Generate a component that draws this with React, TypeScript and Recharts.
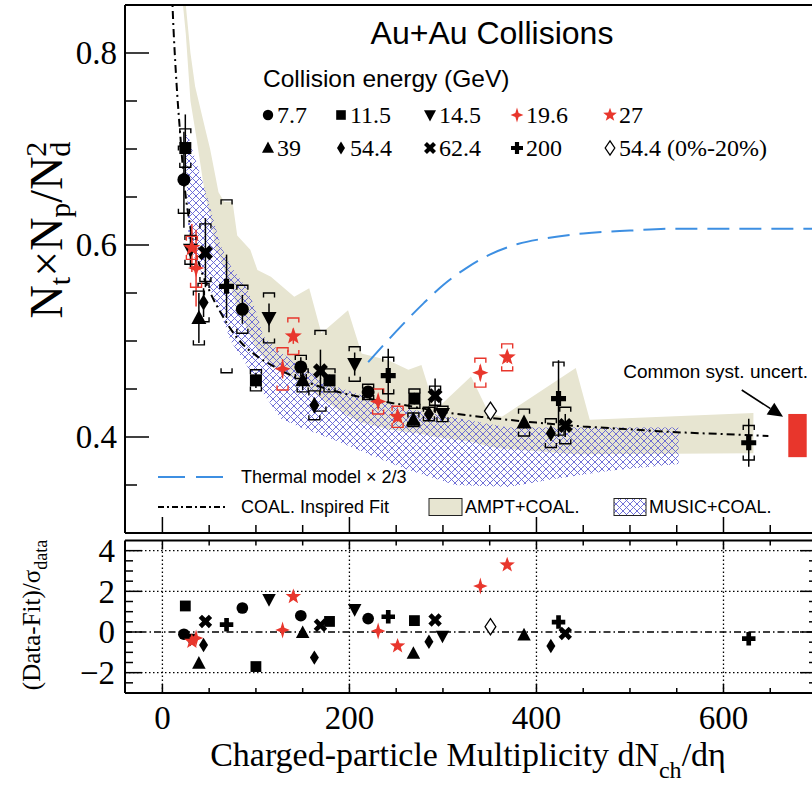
import React from 'react';
import {
  ComposedChart, Scatter, Area, Line, XAxis, YAxis, ErrorBar, ReferenceLine, ReferenceArea,
} from 'recharts';

const SERIF = '"Liberation Serif", "Times New Roman", serif';
const SANS = '"Liberation Sans", Arial, Helvetica, sans-serif';
const RED = '#e8362c';
const BLUE = '#3d8fe2';
const BEIGE = '#e7e5d1';
const HATCH = '#6161d2';

// ---------- axes ----------
const X_DOMAIN = [-40, 700];
const TOP_Y_DOMAIN = [0.3, 0.85];
const RES_Y_DOMAIN = [-3, 4.5];
const X_TICKS = [0, 50, 100, 150, 200, 250, 300, 350, 400, 450, 500, 550, 600, 650];
const X_LABELS = [0, 200, 400, 600];
const TOP_Y_TICKS = [0.35, 0.4, 0.45, 0.5, 0.55, 0.6, 0.65, 0.7, 0.75, 0.8];
const TOP_Y_LABELS = [0.4, 0.6, 0.8];
const RES_Y_TICKS = [-2.5, -2, -1.5, -1, -0.5, 0, 0.5, 1, 1.5, 2, 2.5, 3, 3.5, 4];
const RES_Y_LABELS = [-2, 0, 2, 4];
const RES_GRID_X = [0, 200, 400, 600];
const RES_GRID_Y = [-2, 2, 4];

// ---------- data points: x = dNch/deta, y = Nt*Np/Nd^2, stat, sys, res = (data-fit)/sigma ----------
const E7_7 = [
  { x: 23, y: 0.668, stat: 0.05, sys: 0.035, res: -0.11 },
  { x: 85.5, y: 0.533, stat: 0.015, sys: 0.025, res: 1.18 },
  { x: 148, y: 0.473, stat: 0.01, sys: 0.012, res: 0.8 },
  { x: 220, y: 0.447, stat: 0.006, sys: 0.008, res: 0.66 },
];
const E11_5 = [
  { x: 24.5, y: 0.701, stat: 0.035, sys: 0.02, res: 1.28 },
  { x: 100, y: 0.459, stat: 0.008, sys: 0.011, res: -1.7 },
  { x: 178.7, y: 0.459, stat: 0.006, sys: 0.012, res: 0.52 },
  { x: 269.5, y: 0.44, stat: 0.006, sys: 0.01, res: 0.56 },
];
const E14_5 = [
  { x: 30, y: 0.595, stat: 0.018, sys: 0.015, res: -0.35 },
  { x: 114, y: 0.524, stat: 0.015, sys: 0.026, res: 1.6 },
  { x: 205.6, y: 0.476, stat: 0.012, sys: 0.018, res: 1.11 },
  { x: 299.5, y: 0.424, stat: 0.005, sys: 0.008, res: -0.2 },
];
const E19_6 = [
  { x: 36, y: 0.576, stat: 0.04, sys: 0.02, res: -0.3 },
  { x: 128.5, y: 0.471, stat: 0.01, sys: 0.022, res: 0.1 },
  { x: 230.7, y: 0.437, stat: 0.006, sys: 0.013, res: 0.05 },
  { x: 340, y: 0.467, stat: 0.008, sys: 0.015, res: 2.26 },
];
const E27 = [
  { x: 31.5, y: 0.597, stat: 0.025, sys: 0.012, res: -0.46 },
  { x: 140, y: 0.505, stat: 0.008, sys: 0.019, res: 1.74 },
  { x: 251.5, y: 0.421, stat: 0.005, sys: 0.011, res: -0.69 },
  { x: 368.7, y: 0.483, stat: 0.006, sys: 0.014, res: 3.3 },
];
const E39 = [
  { x: 39, y: 0.524, stat: 0.026, sys: 0.028, res: -1.54 },
  { x: 150, y: 0.459, stat: 0.01, sys: 0.012, res: -0.03 },
  { x: 268.4, y: 0.418, stat: 0.005, sys: 0.007, res: -1.05 },
  { x: 386.7, y: 0.415, stat: 0.006, sys: 0.014, res: -0.15 },
];
const E54_4 = [
  { x: 44, y: 0.54, stat: 0.015, sys: 0.02, res: -0.64 },
  { x: 162.5, y: 0.433, stat: 0.008, sys: 0.015, res: -1.26 },
  { x: 285, y: 0.424, stat: 0.005, sys: 0.007, res: -0.48 },
  { x: 415.4, y: 0.404, stat: 0.008, sys: 0.015, res: -0.69 },
];
const E62_4 = [
  { x: 46, y: 0.592, stat: 0.036, sys: 0.03, res: 0.52 },
  { x: 169, y: 0.469, stat: 0.022, sys: 0.042, res: 0.33 },
  { x: 291.6, y: 0.443, stat: 0.018, sys: 0.01, res: 0.59 },
  { x: 430.8, y: 0.412, stat: 0.012, sys: 0.019, res: -0.07 },
];
const E200 = [
  { x: 68.6, y: 0.557, stat: 0.033, sys: 0.09, res: 0.36 },
  { x: 241.5, y: 0.464, stat: 0.028, sys: 0.019, res: 0.75 },
  { x: 423.6, y: 0.44, stat: 0.04, sys: 0.038, res: 0.49 },
  { x: 627, y: 0.394, stat: 0.025, sys: 0.018, res: -0.33 },
];
const E54_4_CENTRAL = [
  { x: 350.8, y: 0.427, stat: 0, sys: 0, res: 0.26 },
];

// ---------- model curves ----------
// [x, low, high]
const AMPT: number[][] = [
  [22, 0.85, 0.87], [25, 0.82, 0.85], [30, 0.75, 0.8], [35, 0.72, 0.765], [46, 0.65, 0.72],
  [51, 0.63, 0.7], [57, 0.595, 0.67], [60, 0.59, 0.655], [66, 0.575, 0.645], [75, 0.55, 0.645],
  [80, 0.535, 0.61], [94, 0.505, 0.595], [101.6, 0.49, 0.574], [116, 0.475, 0.567], [141, 0.46, 0.546],
  [157, 0.45, 0.555], [170, 0.44, 0.508], [198.5, 0.422, 0.532], [213, 0.415, 0.487], [241.5, 0.408, 0.48],
  [263, 0.405, 0.47], [277, 0.403, 0.475], [292, 0.4, 0.428], [330, 0.395, 0.463], [349, 0.39, 0.425],
  [363, 0.388, 0.421], [442, 0.382, 0.472], [457, 0.382, 0.418], [632, 0.383, 0.425],
];
const MUSIC: number[][] = [
  [25, 0.7, 0.715], [28, 0.605, 0.712], [35, 0.585, 0.69], [48, 0.56, 0.65], [55, 0.545, 0.625],
  [62, 0.53, 0.6], [73, 0.5, 0.578], [90, 0.475, 0.555], [98, 0.46, 0.537], [108, 0.445, 0.505],
  [127, 0.419, 0.488], [148, 0.41, 0.473], [184, 0.397, 0.453], [223, 0.381, 0.44], [259, 0.367, 0.43],
  [313, 0.35, 0.42], [370, 0.348, 0.41], [417, 0.356, 0.41], [480, 0.365, 0.41], [552, 0.372, 0.41],
];
const FIT_X = [9, 11, 15, 19, 23, 30, 40, 50, 65, 80, 100, 120, 150, 180, 220, 260, 300, 350, 400, 450, 500, 550, 600, 648];
const FIT_Y = [0.9, 0.845, 0.77, 0.716, 0.668, 0.618, 0.578, 0.553, 0.525, 0.503, 0.485, 0.473, 0.459, 0.449, 0.44, 0.433, 0.426, 0.42, 0.415, 0.411, 0.408, 0.405, 0.403, 0.401];
const THERMAL_X = [220, 250, 280, 300, 325, 350, 380, 410, 450, 500, 550, 700];
const THERMAL_Y = [0.478, 0.51, 0.54, 0.558, 0.576, 0.59, 0.601, 0.607, 0.612, 0.615, 0.617, 0.617];
const SYST_BOX = { x1: 669.3, x2: 689, y1: 0.379, y2: 0.424 };
const ARROW = [{ x: 619.5, y: 0.449 }, { x: 663.7, y: 0.421 }];

const SERIES = [
  { label: '7.7', kind: 'circle', color: '#000', pts: E7_7 },
  { label: '11.5', kind: 'square', color: '#000', pts: E11_5 },
  { label: '14.5', kind: 'tdown', color: '#000', pts: E14_5 },
  { label: '19.6', kind: 'star4', color: RED, pts: E19_6 },
  { label: '27', kind: 'star5', color: RED, pts: E27 },
  { label: '39', kind: 'tup', color: '#000', pts: E39 },
  { label: '54.4', kind: 'diamond', color: '#000', pts: E54_4 },
  { label: '62.4', kind: 'xcross', color: '#000', pts: E62_4 },
  { label: '200', kind: 'plus', color: '#000', pts: E200 },
  { label: '54.4 (0%-20%)', kind: 'odiamond', color: '#000', pts: E54_4_CENTRAL },
];

const amptData = AMPT.map(([x, lo, hi]) => ({ x, range: [lo, hi] }));
const musicData = MUSIC.map(([x, lo, hi]) => ({ x, range: [lo, hi] }));
const fitData = FIT_X.map((x, i) => ({ x, y: FIT_Y[i] }));
const thermalData = THERMAL_X.map((x, i) => ({ x, y: THERMAL_Y[i] }));
const bracketTop = SERIES.flatMap((s) => s.pts.filter((p) => p.sys > 0).map((p) => ({ x: p.x, y: p.y + p.sys, c: s.color })));
const bracketBot = SERIES.flatMap((s) => s.pts.filter((p) => p.sys > 0).map((p) => ({ x: p.x, y: p.y - p.sys, c: s.color })));

// ---------- layout ----------
const CHART_W = 817;
const AXIS_W = 125;
const PLOT_W = CHART_W - AXIS_W;
const TOP_H = 540;
const RES_TOP = 533;
const RES_H = 253;
const RES_PLOT_H = 152.5;

// ---------- markers ----------
function polyStar(cx: number, cy: number, n: number, ro: number, ri: number, sx = 1) {
  const pts: string[] = [];
  for (let i = 0; i < 2 * n; i++) {
    const r = i % 2 === 0 ? ro : ri;
    const a = -Math.PI / 2 + (i * Math.PI) / n;
    pts.push(`${cx + r * Math.cos(a) * sx},${cy + r * Math.sin(a)}`);
  }
  return pts.join(' ');
}
function crossPoly(cx: number, cy: number, a: number, t: number, rot: number) {
  const base = [[-t, -a], [t, -a], [t, -t], [a, -t], [a, t], [t, t], [t, a], [-t, a], [-t, t], [-a, t], [-a, -t], [-t, -t]];
  const c = Math.cos(rot), s = Math.sin(rot);
  return base.map(([x, y]) => `${cx + x * c - y * s},${cy + x * s + y * c}`).join(' ');
}
function Marker({ kind, color, cx, cy, s = 1 }: any) {
  if (cx == null || cy == null) return null;
  switch (kind) {
    case 'circle':
      return <circle cx={cx} cy={cy} r={6.5 * s} fill={color} />;
    case 'square':
      return <rect x={cx - 6 * s} y={cy - 6 * s} width={12 * s} height={12 * s} fill={color} />;
    case 'tdown':
      return <polygon points={`${cx - 7.5 * s},${cy - 6 * s} ${cx + 7.5 * s},${cy - 6 * s} ${cx},${cy + 8 * s}`} fill={color} />;
    case 'tup':
      return <polygon points={`${cx - 7.5 * s},${cy + 6 * s} ${cx + 7.5 * s},${cy + 6 * s} ${cx},${cy - 8 * s}`} fill={color} />;
    case 'diamond':
      return <polygon points={`${cx},${cy - 8 * s} ${cx + 5 * s},${cy} ${cx},${cy + 8 * s} ${cx - 5 * s},${cy}`} fill={color} />;
    case 'odiamond':
      return <polygon points={`${cx},${cy - 9 * s} ${cx + 6 * s},${cy} ${cx},${cy + 9 * s} ${cx - 6 * s},${cy}`} fill="#fff" stroke={color} strokeWidth={1.3} />;
    case 'xcross':
      return <polygon points={crossPoly(cx, cy, 8 * s, 2.6 * s, Math.PI / 4)} fill={color} />;
    case 'plus':
      return <polygon points={crossPoly(cx, cy, 7.5 * s, 2.6 * s, 0)} fill={color} />;
    case 'star4':
      return <polygon points={polyStar(cx, cy, 4, 9.5 * s, 3.4 * s, 0.85)} fill={color} />;
    case 'star5':
      return <polygon points={polyStar(cx, cy, 5, 9 * s, 3.7 * s)} fill={color} />;
    default:
      return null;
  }
}

// ---------- ticks ----------
const isIn = (arr: number[], v: number) => arr.some((m) => Math.abs(m - v) < 1e-6);
const fmtRes = (v: number) => (v < 0 ? `\u2212${Math.abs(v)}` : `${v}`);

const TopYTick = ({ x, y, payload }: any) => {
  const v = payload.value;
  const major = isIn(TOP_Y_LABELS, v);
  return (
    <g>
      <line x1={x} x2={x + (major ? 24 : 12)} y1={y} y2={y} stroke="#000" strokeWidth={1.5} />
      {major && (
        <text x={x - 8} y={y} dy="0.34em" textAnchor="end" fontFamily={SERIF} fontSize={33} fill="#000">
          {v.toFixed(1)}
        </text>
      )}
    </g>
  );
};
const TopXTick = ({ x, y, payload }: any) => {
  const major = payload.value % 200 === 0;
  return <line x1={x} x2={x} y1={y} y2={y - (major ? 16 : 8)} stroke="#000" strokeWidth={1.5} />;
};
const ResYTick = ({ x, y, payload }: any) => {
  const v = payload.value;
  const major = isIn(RES_Y_LABELS, v);
  const len = major ? 17 : 8;
  return (
    <g>
      <line x1={x} x2={x + len} y1={y} y2={y} stroke="#000" strokeWidth={1.5} />
      <line x1={x + PLOT_W} x2={x + PLOT_W - len} y1={y} y2={y} stroke="#000" strokeWidth={1.5} />
      {major && (
        <text x={x - 10} y={y} dy="0.34em" textAnchor="end" fontFamily={SERIF} fontSize={33} fill="#000">
          {fmtRes(v)}
        </text>
      )}
    </g>
  );
};
const ResXTick = ({ x, y, payload }: any) => {
  const v = payload.value;
  const major = isIn(X_LABELS, v);
  const len = major ? 9 : 5;
  const top = y - RES_PLOT_H;
  return (
    <g>
      <line x1={x} x2={x} y1={y} y2={y - len} stroke="#000" strokeWidth={1.5} />
      <line x1={x} x2={x} y1={top} y2={top + len} stroke="#000" strokeWidth={1.5} />
      {major && (
        <text x={x} y={y + 36} textAnchor="middle" fontFamily={SERIF} fontSize={33} fill="#000">
          {v}
        </text>
      )}
    </g>
  );
};

const BracketTop = (p: any) =>
  p.cx == null ? null : (
    <path d={`M${p.cx - 5.5},${p.cy + 4.5}V${p.cy}H${p.cx + 5.5}V${p.cy + 4.5}`} fill="none" stroke={p.payload.c} strokeWidth={1.4} />
  );
const BracketBot = (p: any) =>
  p.cx == null ? null : (
    <path d={`M${p.cx - 5.5},${p.cy - 4.5}V${p.cy}H${p.cx + 5.5}V${p.cy - 4.5}`} fill="none" stroke={p.payload.c} strokeWidth={1.4} />
  );
const ArrowShape = (p: any) => {
  const { x1, y1, x2, y2 } = p;
  if (x1 == null) return null;
  const ang = Math.atan2(y2 - y1, x2 - x1);
  const L = 15, W = 7;
  const bx = x2 - L * Math.cos(ang), by = y2 - L * Math.sin(ang);
  const nx = -Math.sin(ang), ny = Math.cos(ang);
  return (
    <g>
      <line x1={x1} y1={y1} x2={bx} y2={by} stroke="#000" strokeWidth={1.6} />
      <polygon points={`${x2},${y2} ${bx + nx * W},${by + ny * W} ${bx - nx * W},${by - ny * W}`} fill="#000" />
    </g>
  );
};

const LEGEND_COLS = [268, 341, 430, 517, 610];

export default function App() {
  return (
    <div style={{ position: 'absolute', left: 0, top: 0, width: 812, height: 786, overflow: 'hidden', background: '#fff' }}>
      <svg width={0} height={0} style={{ position: 'absolute' }}>
        <defs>
          <pattern id="musicHatch" patternUnits="userSpaceOnUse" width={7} height={7}>
            <path d="M-1,-1 L8,8 M8,-1 L-1,8" stroke={HATCH} strokeWidth={0.9} />
          </pattern>
        </defs>
      </svg>

      {/* top panel */}
      <div style={{ position: 'absolute', left: 0, top: 0 }}>
        <ComposedChart width={CHART_W} height={TOP_H} margin={{ top: 5, right: 0, bottom: 0, left: 0 }}>
          <XAxis
            dataKey="x" type="number" domain={X_DOMAIN} allowDataOverflow ticks={X_TICKS} interval={0}
            height={7} tickSize={0} tickMargin={0} tick={<TopXTick />} axisLine={{ stroke: '#000', strokeWidth: 2 }} tickLine={false}
          />
          <YAxis
            type="number" domain={TOP_Y_DOMAIN} allowDataOverflow ticks={TOP_Y_TICKS} interval={0}
            width={AXIS_W} tickSize={0} tickMargin={0} tick={<TopYTick />} axisLine={{ stroke: '#000', strokeWidth: 2 }} tickLine={false}
          />
          <Area data={amptData} dataKey="range" type="linear" fill={BEIGE} fillOpacity={1} stroke="none" isAnimationActive={false} />
          <Area data={musicData} dataKey="range" type="linear" fill="url(#musicHatch)" fillOpacity={1} stroke="none" isAnimationActive={false} />
          <Line data={thermalData} dataKey="y" type="monotone" stroke={BLUE} strokeWidth={2} strokeDasharray="22 10" dot={false} isAnimationActive={false} />
          <Line data={fitData} dataKey="y" type="monotone" stroke="#000" strokeWidth={2} strokeDasharray="8 4 2 4" dot={false} isAnimationActive={false} />
          <ReferenceLine y={0.85} stroke="#000" strokeWidth={2} />
          <ReferenceArea x1={SYST_BOX.x1} x2={SYST_BOX.x2} y1={SYST_BOX.y1} y2={SYST_BOX.y2} fill={RED} fillOpacity={1} stroke="none" />
          <ReferenceLine segment={ARROW} shape={ArrowShape} />
          <Scatter data={bracketTop} dataKey="y" shape={BracketTop} isAnimationActive={false} />
          <Scatter data={bracketBot} dataKey="y" shape={BracketBot} isAnimationActive={false} />
          {SERIES.map((s) => (
            <Scatter
              key={s.label} data={s.pts} dataKey="y" isAnimationActive={false}
              shape={(p: any) => <Marker kind={s.kind} color={s.color} cx={p.cx} cy={p.cy} s={1} />}
            >
              <ErrorBar dataKey="stat" direction="y" width={0} stroke={s.color} strokeWidth={1.5} isAnimationActive={false} />
            </Scatter>
          ))}
        </ComposedChart>
      </div>

      {/* residual panel */}
      <div style={{ position: 'absolute', left: 0, top: RES_TOP }}>
        <ComposedChart width={CHART_W} height={RES_H} margin={{ top: 7.5, right: 0, bottom: 0, left: 0 }}>
          <XAxis
            dataKey="x" type="number" domain={X_DOMAIN} allowDataOverflow ticks={X_TICKS} interval={0}
            height={93} tickSize={0} tickMargin={0} tick={<ResXTick />} axisLine={{ stroke: '#000', strokeWidth: 2 }} tickLine={false}
          />
          <YAxis
            type="number" domain={RES_Y_DOMAIN} allowDataOverflow ticks={RES_Y_TICKS} interval={0}
            width={AXIS_W} tickSize={0} tickMargin={0} tick={<ResYTick />} axisLine={{ stroke: '#000', strokeWidth: 2 }} tickLine={false}
          />
          <ReferenceLine y={4.5} stroke="#000" strokeWidth={2} />
          {RES_GRID_X.map((v) => (
            <ReferenceLine key={`gx${v}`} x={v} stroke="#000" strokeWidth={1.3} strokeDasharray="1.5 2.5" />
          ))}
          {RES_GRID_Y.map((v) => (
            <ReferenceLine key={`gy${v}`} y={v} stroke="#000" strokeWidth={1.3} strokeDasharray="1.5 2.5" />
          ))}
          <ReferenceLine y={0} stroke="#000" strokeWidth={1.3} strokeDasharray="7 3 1.5 3" />
          {SERIES.map((s) => (
            <Scatter
              key={s.label} data={s.pts} dataKey="res" isAnimationActive={false}
              shape={(p: any) => <Marker kind={s.kind} color={s.color} cx={p.cx} cy={p.cy} s={0.9} />}
            />
          ))}
        </ComposedChart>
      </div>

      {/* annotations */}
      <svg width={812} height={786} style={{ position: 'absolute', left: 0, top: 0, pointerEvents: 'none' }}>
        <text x={492} y={44} textAnchor="middle" fontFamily={SANS} fontSize={32} fill="#000">Au+Au Collisions</text>
        <text x={263} y={87} fontFamily={SANS} fontSize={24.5} fill="#000">Collision energy (GeV)</text>
        {SERIES.map((s, i) => {
          const row = i < 5 ? 0 : 1;
          const col = i % 5;
          const cy = row === 0 ? 115 : 148;
          const cx = LEGEND_COLS[col];
          return (
            <g key={s.label}>
              <Marker kind={s.kind} color={s.color} cx={cx} cy={cy} s={0.8} />
              <text x={cx + 9} y={cy + 8} fontFamily={SERIF} fontSize={24} fill="#000">{s.label}</text>
            </g>
          );
        })}

        <line x1={158} x2={224} y1={477} y2={477} stroke={BLUE} strokeWidth={2} strokeDasharray="27 11" />
        <text x={241} y={483} fontFamily={SANS} fontSize={18} fill="#000">Thermal model × 2/3</text>
        <line x1={158} x2={226} y1={507} y2={507} stroke="#000" strokeWidth={1.8} strokeDasharray="6 3 2 3" />
        <text x={241} y={513} fontFamily={SANS} fontSize={18} fill="#000">COAL. Inspired Fit</text>
        <rect x={429} y={498.5} width={33} height={17} fill={BEIGE} stroke="#222" strokeWidth={1} />
        <text x={465} y={513} fontFamily={SANS} fontSize={18} fill="#000">AMPT+COAL.</text>
        <rect x={614} y={498.5} width={32} height={17} fill="url(#musicHatch)" stroke="#222" strokeWidth={1} />
        <text x={649} y={513} fontFamily={SANS} fontSize={18} fill="#000">MUSIC+COAL.</text>

        <text x={808} y={378} textAnchor="end" fontFamily={SANS} fontSize={19} fill="#000">Common syst. uncert.</text>

        <text transform="rotate(-90)" x={-230} y={62} textAnchor="middle" fontFamily={SERIF} fontSize={46} fill="#000">
          N<tspan dy={8} fontSize={30}>t</tspan>
          <tspan dy={-8}>×N</tspan>
          <tspan dy={8} fontSize={30}>p</tspan>
          <tspan dy={-8}>/N</tspan>
          <tspan dy={8} fontSize={30}>d</tspan>
          <tspan dy={-24} dx={-15} fontSize={30}>2</tspan>
        </text>
        <text transform="rotate(-90)" x={-615} y={40} textAnchor="middle" fontFamily={SERIF} fontSize={25} fill="#000">
          (Data-Fit)/σ<tspan dy={7} fontSize={18}>data</tspan>
        </text>
        <text x={468} y={766} textAnchor="middle" fontFamily={SERIF} fontSize={34} fill="#000">
          Charged-particle Multiplicity dN<tspan dy={12} fontSize={24}>ch</tspan>
          <tspan dy={-12}>/dη</tspan>
        </text>
      </svg>
    </div>
  );
}
